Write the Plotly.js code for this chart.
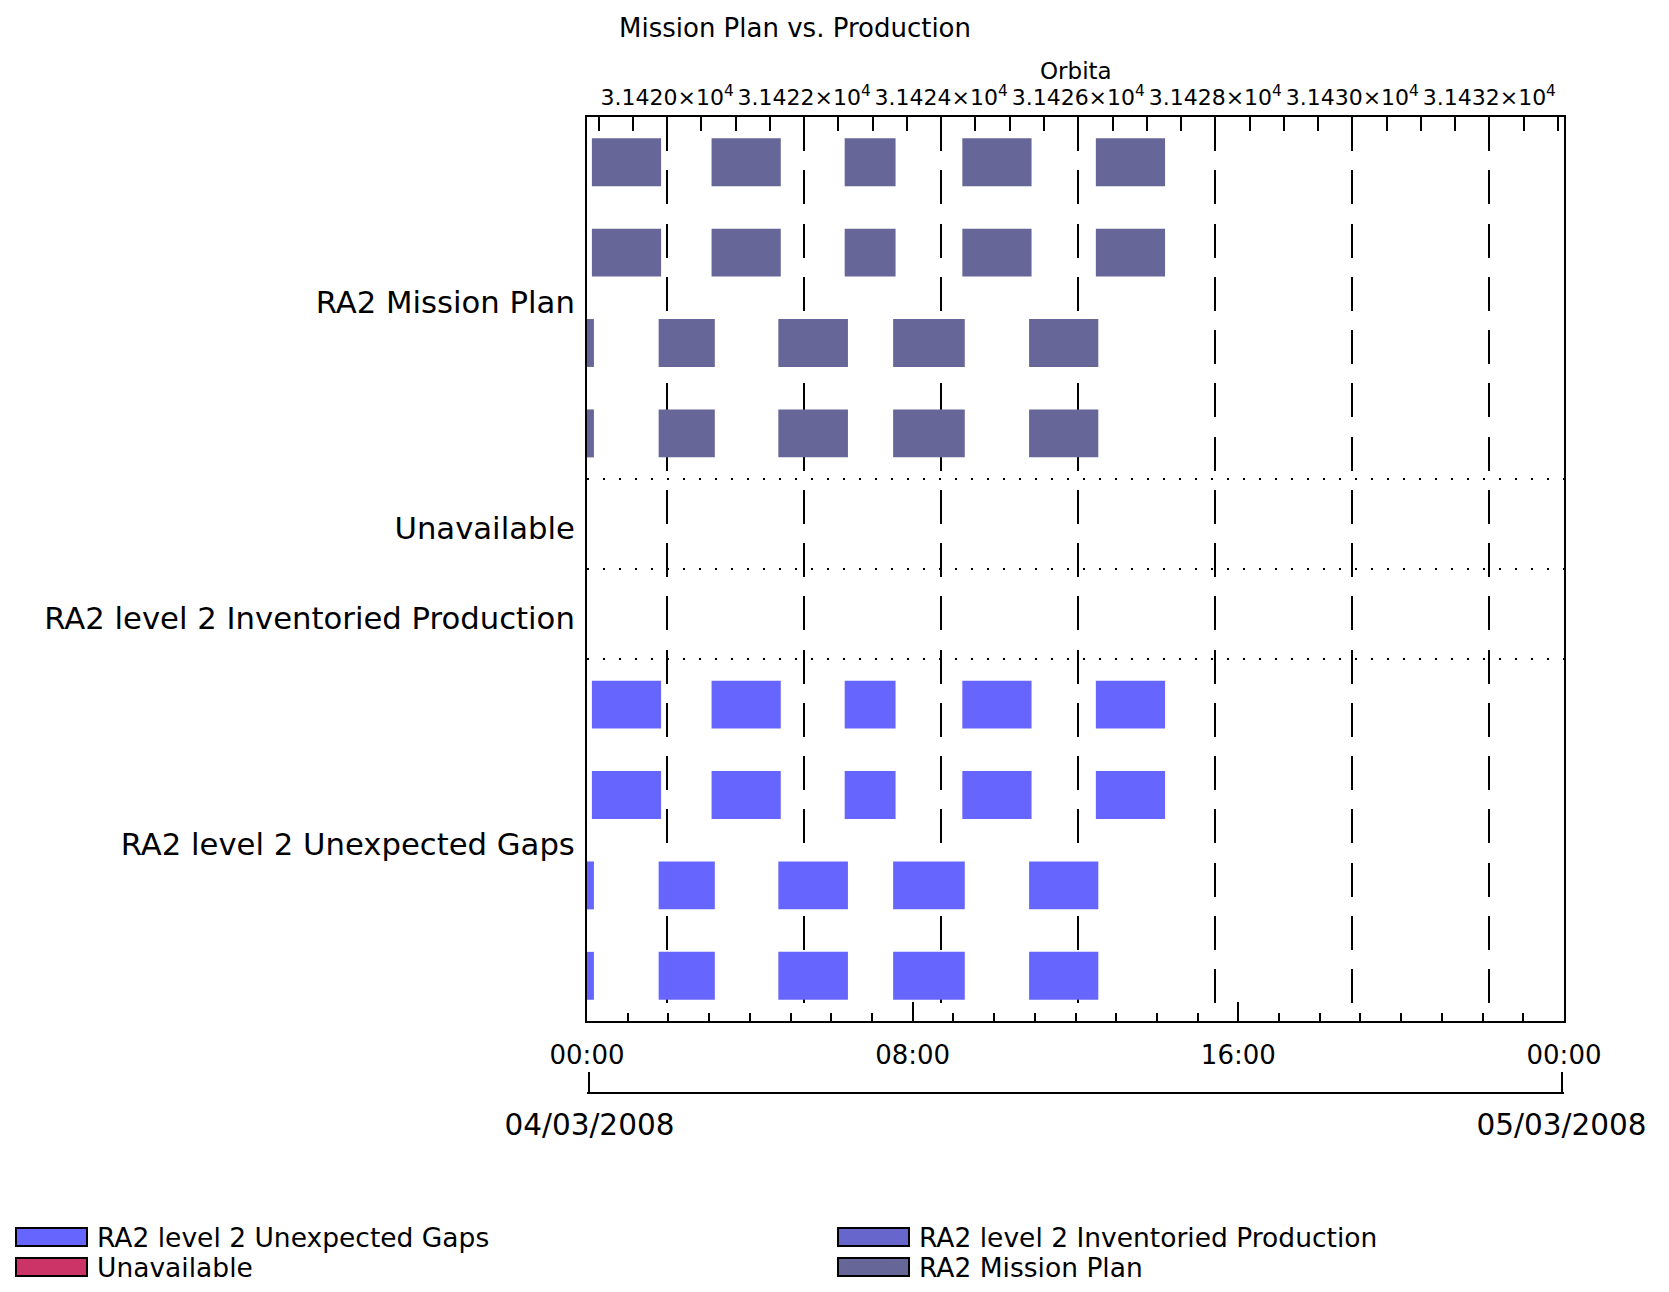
<!DOCTYPE html>
<html>
<head>
<meta charset="utf-8">
<script src="https://cdn.plot.ly/plotly-3.0.1.min.js"></script>
<style>
html, body { margin: 0; padding: 0; background: #ffffff; }
#chart { width: 1669px; height: 1292px; }
</style>
</head>
<body>
<div id="chart"></div>
<script>
// ---------------- data ----------------
// bottom time axis (hours since 04/03/2008 00:00)
const hourTickVals = [0, 8, 16, 24];
const hourTickText = ['00:00', '08:00', '16:00', '00:00'];
const dayTickVals = [0, 24];
const dayTickText = ['04/03/2008', '05/03/2008'];

// top orbit axis
const orbitTitle = 'Orbita';
const orbitTickVals = [31420, 31422, 31424, 31426, 31428, 31430, 31432];
const orbitTickText = ['3.1420×10<sup>4</sup>', '3.1422×10<sup>4</sup>', '3.1424×10<sup>4</sup>', '3.1426×10<sup>4</sup>', '3.1428×10<sup>4</sup>', '3.1430×10<sup>4</sup>', '3.1432×10<sup>4</sup>'];
const orbitRange = [31418.83, 31433.09];

// row groups
const groupLabels = ['RA2 Mission Plan', 'Unavailable', 'RA2 level 2 Inventoried Production', 'RA2 level 2 Unexpected Gaps'];
const groupLabelSlots = [2, 4.5, 5.5, 8];
const groupSeparators = [4, 5, 6];

// RA2 Mission Plan: four lanes (slots 0..3), start / end in hours
const planLane0Start = [0.12, 3.06, 6.33, 9.22, 12.50];
const planLane0End   = [1.82, 4.76, 7.58, 10.92, 14.20];
const planLane1Start = [0.12, 3.06, 6.33, 9.22, 12.50];
const planLane1End   = [1.82, 4.76, 7.58, 10.92, 14.20];
const planLane2Start = [-0.08, 1.76, 4.70, 7.52, 10.86];
const planLane2End   = [0.17, 3.14, 6.41, 9.28, 12.56];
const planLane3Start = [-0.08, 1.76, 4.70, 7.52, 10.86];
const planLane3End   = [0.17, 3.14, 6.41, 9.28, 12.56];

// Unavailable (slot 4) and Inventoried Production (slot 5): no intervals
const unavailableStart = [];
const unavailableEnd = [];
const inventoriedStart = [];
const inventoriedEnd = [];

// RA2 level 2 Unexpected Gaps: four lanes (slots 6..9)
const gapsLane6Start = [0.12, 3.06, 6.33, 9.22, 12.50];
const gapsLane6End   = [1.82, 4.76, 7.58, 10.92, 14.20];
const gapsLane7Start = [0.12, 3.06, 6.33, 9.22, 12.50];
const gapsLane7End   = [1.82, 4.76, 7.58, 10.92, 14.20];
const gapsLane8Start = [-0.08, 1.76, 4.70, 7.52, 10.86];
const gapsLane8End   = [0.17, 3.14, 6.41, 9.28, 12.56];
const gapsLane9Start = [-0.08, 1.76, 4.70, 7.52, 10.86];
const gapsLane9End   = [0.17, 3.14, 6.41, 9.28, 12.56];

// legend
const legendNames  = ['RA2 level 2 Unexpected Gaps', 'Unavailable', 'RA2 level 2 Inventoried Production', 'RA2 Mission Plan'];
const legendColors = ['#6666ff', '#cc3366', '#6666cc', '#666699'];

// ---------------- build traces ----------------
const FONT = 'DejaVu Sans, Verdana, sans-serif';
const BAR_W = 0.53;
const LABEL_SHIFT = 0.045;   // the reference draws group labels slightly below their band centre

function lanesToBars(lanes) {
  const y = [], x = [], base = [];
  lanes.forEach(function (l) {
    for (let i = 0; i < l.start.length; i++) {
      y.push(l.slot + 0.5);
      base.push(l.start[i]);
      x.push(l.end[i] - l.start[i]);
    }
  });
  if (!y.length) { y.push(null); x.push(null); base.push(null); }
  return { y: y, x: x, base: base };
}

function barTrace(name, color, lanes) {
  const d = lanesToBars(lanes);
  return {
    type: 'bar', orientation: 'h', name: name,
    x: d.x, y: d.y, base: d.base, width: BAR_W,
    marker: { color: color, line: { width: 0 } },
    xaxis: 'x', yaxis: 'y', showlegend: false, hoverinfo: 'skip'
  };
}

const traces = [
  barTrace('RA2 Mission Plan', legendColors[3], [
    { slot: 0, start: planLane0Start, end: planLane0End },
    { slot: 1, start: planLane1Start, end: planLane1End },
    { slot: 2, start: planLane2Start, end: planLane2End },
    { slot: 3, start: planLane3Start, end: planLane3End }
  ]),
  barTrace('Unavailable', legendColors[1], [
    { slot: 4, start: unavailableStart, end: unavailableEnd }
  ]),
  barTrace('RA2 level 2 Inventoried Production', legendColors[2], [
    { slot: 5, start: inventoriedStart, end: inventoriedEnd }
  ]),
  barTrace('RA2 level 2 Unexpected Gaps', legendColors[0], [
    { slot: 6, start: gapsLane6Start, end: gapsLane6End },
    { slot: 7, start: gapsLane7Start, end: gapsLane7End },
    { slot: 8, start: gapsLane8Start, end: gapsLane8End },
    { slot: 9, start: gapsLane9Start, end: gapsLane9End }
  ]),
  // carriers for the overlay axes (orbit axis + separators, date bracket)
  { type: 'scatter', mode: 'markers', x: [null], y: [null], xaxis: 'x2', yaxis: 'y2', showlegend: false, hoverinfo: 'skip' },
  { type: 'scatter', mode: 'markers', x: [null], y: [null], xaxis: 'x3', yaxis: 'y', showlegend: false, hoverinfo: 'skip' }
];

// ---------------- layout ----------------
const W = 1669, H = 1292;
const M = { l: 587, r: 105, t: 117, b: 199 };
const PW = W - M.l - M.r, PH = H - M.t - M.b;
const plotBottomPx = 1021;
const yDomainStart = (H - M.b - plotBottomPx) / PH;
function px2paperX(px) { return (px - M.l) / PW; }
function px2paperY(py) { return (H - M.b - py) / PH; }

const shapes = [];
const annotations = [];
const legendColX = [16, 838];
const legendRowY = [1237, 1267];
const SW = 71, SH = 18;
legendNames.forEach(function (name, i) {
  const col = Math.floor(i / 2), row = i % 2;
  const x0 = legendColX[col], yc = legendRowY[row];
  shapes.push({
    type: 'rect', xref: 'paper', yref: 'paper', layer: 'above',
    x0: px2paperX(x0), x1: px2paperX(x0 + SW),
    y0: px2paperY(yc - SH / 2), y1: px2paperY(yc + SH / 2),
    fillcolor: legendColors[i], line: { color: '#000000', width: 2 }
  });
  annotations.push({
    xref: 'paper', yref: 'paper', x: px2paperX(x0 + SW + 8), y: px2paperY(yc),
    xanchor: 'left', yanchor: 'middle', showarrow: false, text: name,
    font: { family: FONT, size: 26.5, color: '#000000' }
  });
});
// orbit axis title, placed above the orbit tick labels
annotations.push({
  xref: 'paper', yref: 'paper', x: 0.5, y: px2paperY(71),
  xanchor: 'center', yanchor: 'middle', showarrow: false, text: orbitTitle,
  font: { family: FONT, size: 23, color: '#000000' }
});

const layout = {
  width: W, height: H,
  margin: M,
  paper_bgcolor: '#ffffff', plot_bgcolor: '#ffffff',
  showlegend: false,
  barmode: 'overlay',
  font: { family: FONT, color: '#000000' },
  title: {
    text: 'Mission Plan vs. Production',
    font: { family: FONT, size: 26, color: '#000000' },
    xref: 'container', yref: 'container',
    x: 795 / W, xanchor: 'center', y: 1 - 28 / H, yanchor: 'middle'
  },
  xaxis: {
    range: [0, 24], tickmode: 'array', tickvals: hourTickVals, ticktext: hourTickText,
    ticks: 'inside', ticklen: 19, tickwidth: 2, tickcolor: '#000000',
    minor: { tickmode: 'linear', tick0: 0, dtick: 1, ticks: 'inside', ticklen: 8, tickwidth: 2, tickcolor: '#000000', showgrid: false },
    showline: true, linewidth: 2, linecolor: '#000000', mirror: true,
    showgrid: false, zeroline: false, fixedrange: true,
    tickfont: { family: FONT, size: 26, color: '#000000' },
    ticklabelstandoff: 10
  },
  xaxis2: {
    overlaying: 'x', side: 'top', anchor: 'y2',
    range: orbitRange, tickmode: 'array', tickvals: orbitTickVals, ticktext: orbitTickText,
    tickangle: 0,
    ticks: 'inside', ticklen: 33, tickwidth: 2, tickcolor: '#000000',
    minor: { tickmode: 'linear', tick0: 31420, dtick: 0.5, ticks: 'inside', ticklen: 14, tickwidth: 2, tickcolor: '#000000', showgrid: false },
    showline: true, linewidth: 2, linecolor: '#000000',
    showgrid: true, gridcolor: '#000000', gridwidth: 2, griddash: '34px,19.25px',
    zeroline: false, fixedrange: true,
    tickfont: { family: FONT, size: 22, color: '#000000' },
    ticklabelstandoff: 1
  },
  xaxis3: {
    overlaying: 'x', side: 'bottom', anchor: 'free', position: 0,
    range: [-0.06, 24.06], tickmode: 'array', tickvals: dayTickVals, ticktext: dayTickText,
    tickangle: 0,
    ticks: 'inside', ticklen: 20, tickwidth: 2, tickcolor: '#000000',
    showline: true, linewidth: 2, linecolor: '#000000',
    showgrid: false, zeroline: false, fixedrange: true,
    tickfont: { family: FONT, size: 29.5, color: '#000000' },
    ticklabelstandoff: 6
  },
  yaxis: {
    domain: [yDomainStart, 1], range: [10, 0],
    tickmode: 'array', tickvals: groupLabelSlots.map(function (v) { return v + LABEL_SHIFT; }), ticktext: groupLabels,
    ticks: '', showgrid: false, zeroline: false,
    showline: true, linewidth: 2, linecolor: '#000000', mirror: true,
    fixedrange: true,
    tickfont: { family: FONT, size: 30.7, color: '#000000' },
    ticklabelstandoff: 4
  },
  yaxis2: {
    overlaying: 'y', anchor: 'x2', range: [10, 0],
    tickmode: 'array', tickvals: groupSeparators, showticklabels: false, ticks: '',
    showgrid: true, gridcolor: '#000000', gridwidth: 2, griddash: '2px,14px',
    zeroline: false, showline: false, fixedrange: true
  },
  shapes: shapes,
  annotations: annotations
};

Plotly.newPlot('chart', traces, layout, { staticPlot: true, displayModeBar: false });
</script>
</body>
</html>
